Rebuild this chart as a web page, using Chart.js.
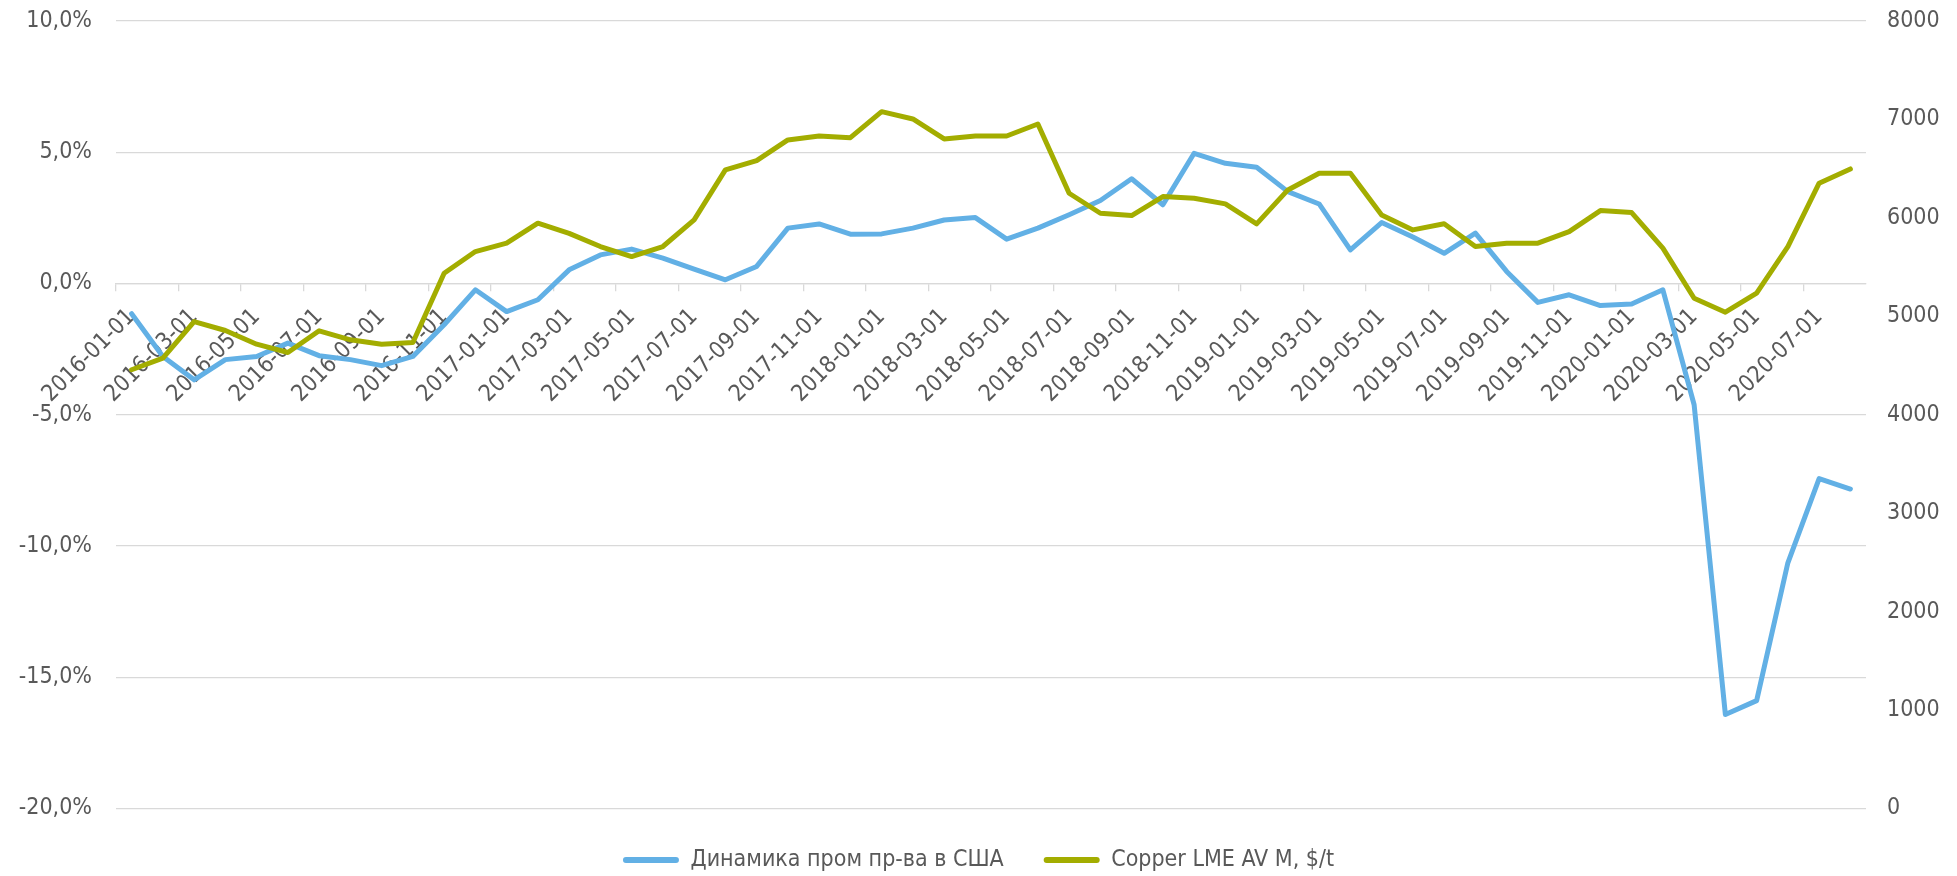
<!DOCTYPE html>
<html>
<head>
<meta charset="utf-8">
<script src="https://cdn.jsdelivr.net/npm/chart.js@4/dist/chart.umd.min.js"></script>
<style>
  html, body { margin: 0; padding: 0; background: #fff; }
  #wrap { width: 1957px; height: 876px; position: relative; }
</style>
</head>
<body>
<div id="wrap"><canvas id="chart"></canvas></div>
<script>
const months = [
  '2016-01-01', '2016-02-01', '2016-03-01', '2016-04-01', '2016-05-01', '2016-06-01',
  '2016-07-01', '2016-08-01', '2016-09-01', '2016-10-01', '2016-11-01', '2016-12-01',
  '2017-01-01', '2017-02-01', '2017-03-01', '2017-04-01', '2017-05-01', '2017-06-01',
  '2017-07-01', '2017-08-01', '2017-09-01', '2017-10-01', '2017-11-01', '2017-12-01',
  '2018-01-01', '2018-02-01', '2018-03-01', '2018-04-01', '2018-05-01', '2018-06-01',
  '2018-07-01', '2018-08-01', '2018-09-01', '2018-10-01', '2018-11-01', '2018-12-01',
  '2019-01-01', '2019-02-01', '2019-03-01', '2019-04-01', '2019-05-01', '2019-06-01',
  '2019-07-01', '2019-08-01', '2019-09-01', '2019-10-01', '2019-11-01', '2019-12-01',
  '2020-01-01', '2020-02-01', '2020-03-01', '2020-04-01', '2020-05-01', '2020-06-01',
  '2020-07-01', '2020-08-01',
];

// US industrial production, % y/y (left axis)
const usProduction = [
  -1.15, -2.78, -3.67, -2.90, -2.78, -2.27, -2.75, -2.90, -3.13, -2.78, -1.57, -0.24,
  -1.07, -0.62, 0.52, 1.09, 1.31, 0.97, 0.55, 0.14, 0.65, 2.11, 2.27, 1.88,
  1.89, 2.11, 2.42, 2.51, 1.69, 2.11, 2.62, 3.16, 3.99, 3.00, 4.96, 4.58,
  4.43, 3.50, 3.03, 1.28, 2.32, 1.77, 1.15, 1.92, 0.46, -0.72, -0.43, -0.84,
  -0.78, -0.24, -4.62, -16.42, -15.89, -10.64, -7.43, -7.83,
];

// Copper LME monthly average, $/t (right axis)
const copperPrice = [
  4457, 4575, 4947, 4856, 4717, 4632, 4853, 4761, 4717, 4734, 5438, 5658,
  5743, 5946, 5843, 5709, 5607, 5709, 5980, 6487, 6582, 6792, 6832, 6815,
  7079, 7005, 6802, 6832, 6832, 6954, 6250, 6047, 6023, 6216, 6200, 6142,
  5939, 6284, 6453, 6453, 6030, 5878, 5940, 5709, 5743, 5743, 5861, 6074,
  6054, 5692, 5184, 5042, 5235, 5709, 6352, 6497,
];

const seriesNames = ['Динамика пром пр-ва в США', 'Copper LME AV M, $/t'];

const textColor = '#595959';
const gridColor = '#d9d9d9';
const blue = '#62b0e5';
const green = '#a3ad00';
const fontFamily = "'DejaVu Sans Condensed', 'DejaVu Sans', sans-serif";

Chart.defaults.font.family = fontFamily;
Chart.defaults.font.size = 23;
Chart.defaults.color = textColor;

function formatPct(v) {
  return v.toFixed(1).replace('.', ',') + '%';
}

// fixed axis widths; drop the label half-height padding so the plot top sits where layout says
function fixAxis(width) {
  return (scale) => {
    scale.width = width;
    scale.paddingTop = 0;
    scale.paddingBottom = 0;
  };
}

const data = {
  labels: months,
  datasets: [
    {
      label: seriesNames[0],
      data: usProduction,
      borderColor: blue,
      backgroundColor: blue,
      borderWidth: 5,
      pointRadius: 0,
      borderJoinStyle: 'round',
      borderCapStyle: 'round',
      yAxisID: 'y',
      order: 1,
    },
    {
      label: seriesNames[1],
      data: copperPrice,
      borderColor: green,
      backgroundColor: green,
      borderWidth: 5,
      pointRadius: 0,
      borderJoinStyle: 'round',
      borderCapStyle: 'round',
      yAxisID: 'y1',
      order: 0,
    },
  ],
};

const options = {
  responsive: false,
  animation: false,
  layout: { padding: { top: 21, left: 0, right: 0, bottom: -5.5 } },
  scales: {
    x: {
      type: 'category',
      position: { y: 0 },
      offset: true,
      afterFit: (scale) => { scale.height = 0; },
      grid: {
        offset: true,
        drawOnChartArea: false,
        drawTicks: true,
        tickLength: 7,
        lineWidth: 1.3,
        color: (ctx) => (ctx.index % 2 === 0 ? gridColor : 'rgba(0,0,0,0)'),
      },
      border: { display: true, color: gridColor, width: 1.3 },
      ticks: {
        autoSkip: false,
        maxRotation: 45,
        minRotation: 45,
        padding: 13,
        color: textColor,
        callback: (val, idx) => (idx % 2 === 0 ? months[idx] : ''),
      },
    },
    y: {
      position: 'left',
      min: -20,
      max: 10,
      afterFit: fixAxis(116),
      grid: { color: gridColor, lineWidth: 1.3, drawTicks: false },
      border: { display: false },
      ticks: {
        stepSize: 5,
        padding: 24,
        color: textColor,
        callback: (v) => formatPct(v),
      },
    },
    y1: {
      position: 'right',
      min: 0,
      max: 8000,
      afterFit: fixAxis(91),
      grid: { display: false, drawTicks: false },
      border: { display: false },
      ticks: {
        stepSize: 1000,
        padding: 21,
        color: textColor,
        callback: (v) => String(v),
      },
    },
  },
  plugins: {
    legend: {
      display: true,
      position: 'bottom',
      labels: {
        color: textColor,
        boxWidth: 56,
        boxHeight: 6,
        padding: 40,
        useBorderRadius: true,
        borderRadius: 3,
        sort: (a, b) => a.datasetIndex - b.datasetIndex,
        generateLabels: (chart) =>
          Chart.defaults.plugins.legend.labels.generateLabels(chart).map((item) => ({ ...item, lineWidth: 0 })),
      },
    },
    tooltip: { enabled: false },
  },
};

const canvas = document.getElementById('chart');
canvas.width = 1957;
canvas.height = 876;
new Chart(canvas.getContext('2d'), { type: 'line', data, options });
</script>
</body>
</html>
